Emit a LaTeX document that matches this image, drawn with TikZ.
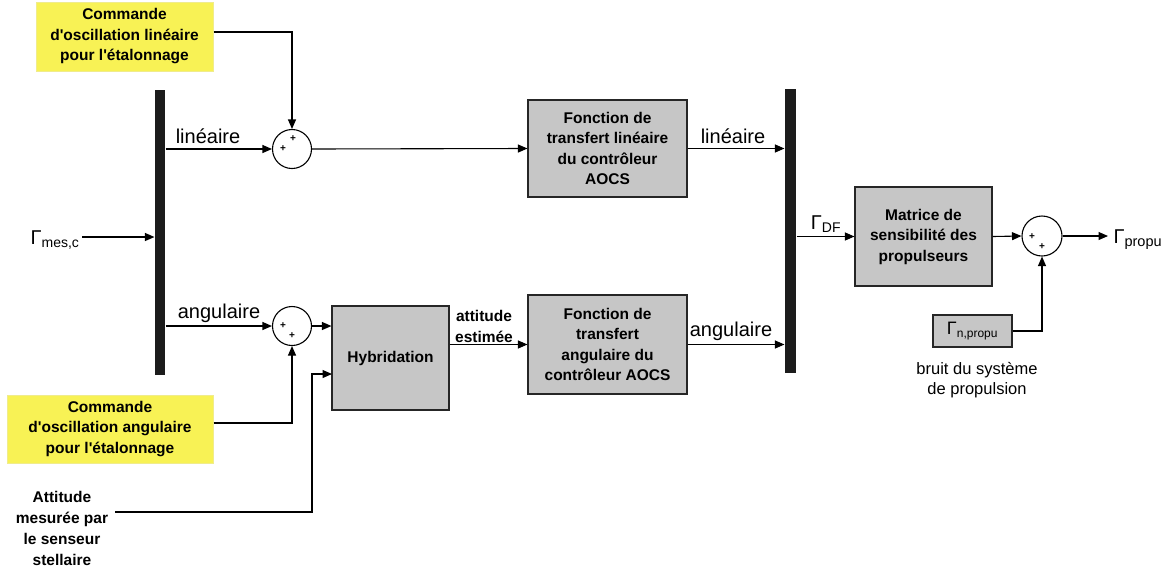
\documentclass[tikz,border=0pt]{standalone}
\usepackage{fontspec}
\setmainfont{Liberation Sans}
\usetikzlibrary{arrows.meta,calc}
\definecolor{ylw}{RGB}{248,242,85}
\definecolor{ylwedge}{RGB}{240,236,140}
\definecolor{boxgray}{RGB}{198,198,198}
\definecolor{barblk}{RGB}{28,28,28}
\begin{document}
\begin{tikzpicture}[x=1pt,y=-1pt,
  line width=1.1pt,
  arr/.style={-{Triangle[length=9.5pt,width=8pt]}},
  ybox/.style={draw=ylwedge,fill=ylw,line width=1pt,inner sep=0pt,align=center,font=\fontsize{15.5}{20.5}\selectfont\bfseries},
  gbox/.style={draw=black!85,fill=boxgray,line width=1.1pt,inner sep=0pt,align=center,font=\fontsize{15.5}{20.5}\selectfont\bfseries},
  barnode/.style={fill=barblk,draw=none,inner sep=0pt},
  sumnode/.style={circle,draw,fill=white,line width=1.1pt,inner sep=0pt},
  lbl/.style={inner sep=0pt,font=\fontsize{20}{22}\selectfont},
  btxt/.style={inner sep=0pt,align=center,font=\fontsize{15.5}{21}\selectfont\bfseries},
  plus/.style={inner sep=0pt,font=\fontsize{10}{10}\selectfont\bfseries}
]
\useasboundingbox (0,0) rectangle (1174,571);

% yellow command boxes
\node[ybox,minimum width=177pt,minimum height=69pt] (cmdlin) at (124.5,36.5)
  {Commande\\d\textquotesingle oscillation linéaire\\pour l\textquotesingle étalonnage};
\node[ybox,minimum width=206pt,minimum height=68pt] (cmdang) at (110,429)
  {Commande\\d\textquotesingle oscillation angulaire\\pour l\textquotesingle étalonnage};

% bars
\node[barnode,minimum width=10pt,minimum height=285pt] (bar1) at (160,232.5) {};
\node[barnode,minimum width=11pt,minimum height=284pt] (bar2) at (790.5,231) {};

% summing junctions
\node[sumnode,minimum size=39pt] (sum1) at (292,149) {};
\node[sumnode,minimum size=39pt] (sum2) at (292,326) {};
\node[sumnode,minimum size=40pt] (sum3) at (1042,236) {};
\node[plus] (p1a) at (293,139) {+};
\node[plus] (p1b) at (283,149) {+};
\node[plus] (p2a) at (283,326) {+};
\node[plus] (p2b) at (292,336) {+};
\node[plus] (p3a) at (1032,237) {+};
\node[plus] (p3b) at (1042,247) {+};

% grey blocks
\node[gbox,minimum width=159pt,minimum height=97pt] (ftl) at (607.5,148.5)
  {Fonction de\\transfert linéaire\\du contrôleur\\AOCS};
\node[gbox,minimum width=159pt,minimum height=99pt] (fta) at (607.5,344.5)
  {Fonction de\\transfert\\angulaire du\\contrôleur AOCS};
\node[gbox,minimum width=117pt,minimum height=104pt] (hyb) at (390.5,358) {Hybridation};
\node[gbox,minimum width=137pt,minimum height=99pt] (mat) at (923.5,236.5)
  {Matrice de\\sensibilité des\\propulseurs};
\node[gbox,minimum width=79pt,minimum height=32pt,font=\fontsize{18}{20}\selectfont] (noise) at (972.5,331)
  {Γ\textsubscript{\fontsize{12}{12}\selectfont n,propu}};

% labels
\node[lbl,anchor=east] (gmes) at (80,240) {Γ\textsubscript{\fontsize{14}{14}\selectfont mes,c}};
\node[lbl] (llin1) at (208,136) {linéaire};
\node[lbl] (lang1) at (219,313) {angulaire};
\node[lbl] (llin2) at (733,136) {linéaire};
\node[lbl] (lang2) at (731,331) {angulaire};
\node[lbl] (gdf) at (826,224) {Γ\textsubscript{\fontsize{14}{14}\selectfont DF}};
\node[lbl,anchor=west] (gprop) at (1113,240) {Γ\textsubscript{\fontsize{14.5}{14.5}\selectfont propu}};
\node[btxt] (attest) at (484,326) {attitude\\estimée};
\node[btxt] (attmes) at (62,528) {Attitude\\mesurée par\\le senseur\\stellaire};
\node[inner sep=0pt,align=center,font=\fontsize{16.5}{20}\selectfont] (bruit) at (977,380)
  {bruit du système\\de propulsion};

% coordinates for free ends
\coordinate (gin) at (82,237);
\coordinate (att) at (115,512);
\coordinate (hin2) at (332,374);
\coordinate (gout) at (1108,236);

% connectors
\draw[arr] ([yshift=4.5pt]cmdlin.east) -| (sum1.north);
\draw[arr] ([yshift=6pt]cmdang.east) -| (sum2.south);
\draw[arr] (gin) -- (bar1.west |- gin);
\draw[arr] (bar1.east |- sum1.west) -- (sum1.west);
\draw[arr] (bar1.east |- sum2.west) -- (sum2.west);
\draw[arr] (sum1.east) -- (ftl.west);
\draw[arr] (sum2.east) -- (hyb.west |- sum2.east);
\draw[arr] (att) -| ([xshift=-20pt]hin2) -- (hin2);
\draw[arr] (hyb.east |- fta.west) -- (fta.west);
\draw[arr] (ftl.east) -- (bar2.west |- ftl.east);
\draw[arr] (fta.east) -- (bar2.west |- fta.east);
\draw[arr] (bar2.east |- mat.west) -- (mat.west);
\draw[arr] (mat.east) -- (sum3.west);
\draw[arr] (sum3.east) -- (gout);
\draw[arr] (noise.east) -| (sum3.south);
\end{tikzpicture}
\end{document}
